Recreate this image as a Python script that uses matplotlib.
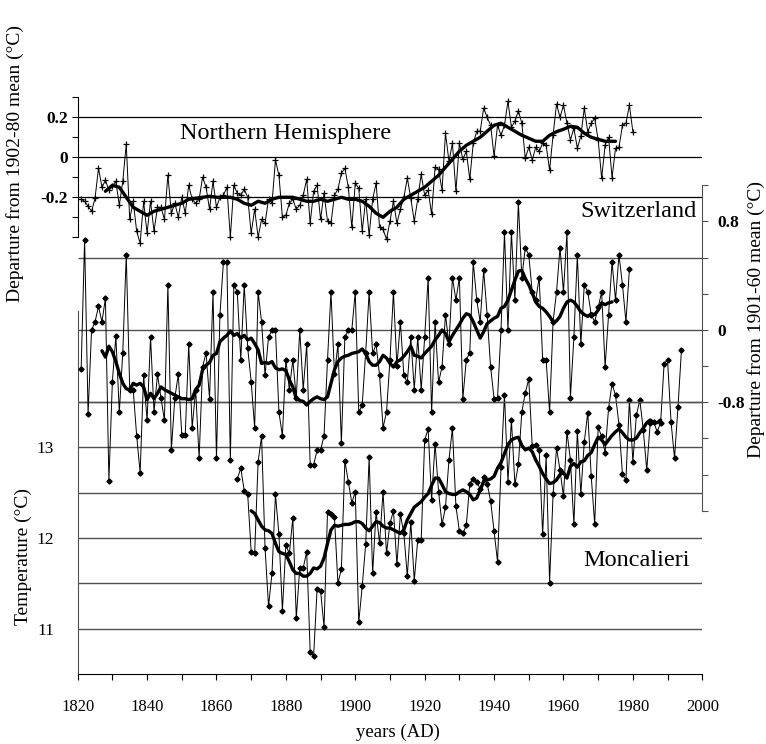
#!/usr/bin/python3
'''
Annual temperature series: Northern Hemisphere, Switzerland and Moncalieri,
stacked in one panel with their own vertical scales, thin lines are the
annual values and thick lines the smoothed curves.
'''
import numpy as np
from matplotlib import pyplot as plt
from matplotlib.ticker import FixedLocator, FixedFormatter

#--------------------------------------------
# Data
# Northern Hemisphere, departure from 1902-80 mean, 1821-1980
nh_start = 1821
nh_vals = [
    -0.21, -0.22, -0.245, -0.27, -0.205, -0.055, -0.15, -0.115, -0.165, -0.145,
    -0.12, -0.24, -0.12, 0.066, -0.31, -0.22, -0.37, -0.43, -0.22, -0.38,
    -0.22, -0.37, -0.25, -0.25, -0.31, -0.09, -0.28, -0.23, -0.30, -0.20,
    -0.28, -0.14, -0.21, -0.23, -0.21, -0.10, -0.15, -0.26, -0.12, -0.25,
    -0.20, -0.19, -0.15, -0.40, -0.14, -0.18, -0.19, -0.16, -0.20, -0.38,
    -0.26, -0.40, -0.31, -0.33, -0.21, -0.23, -0.014, -0.09, -0.30, -0.29,
    -0.23, -0.21, -0.26, -0.24, -0.19, -0.11, -0.33, -0.17, -0.14, -0.31,
    -0.18, -0.32, -0.33, -0.19, -0.16, -0.08, -0.055, -0.15, -0.35, -0.13,
    -0.155, -0.37, -0.21, -0.39, -0.21, -0.13, -0.35, -0.36, -0.41, -0.32,
    -0.22, -0.33, -0.26, -0.20, -0.105, -0.205, -0.32, -0.21, -0.085, -0.19,
    -0.165, -0.285, -0.05, -0.06, -0.165, 0.12, -0.02, 0.07, -0.17, 0.07,
    -0.01, 0.03, -0.11, 0.07, 0.13, 0.13, 0.245, 0.20, 0.16, 0.006,
    0.16, 0.11, 0.16, 0.28, 0.15, 0.18, 0.233, 0.17, -0.005, 0.05,
    -0.014, 0.05, 0.03, 0.07, 0.06, -0.064, 0.11, 0.266, 0.20, 0.26,
    0.17, 0.087, 0.145, 0.045, 0.106, 0.245, 0.128, 0.17, 0.195, 0.087,
    -0.105, 0.06, 0.10, -0.102, 0.045, 0.05, 0.16, 0.17, 0.26, 0.128,
]
nh_smooth_years = [
    1828, 1830, 1832, 1834, 1836, 1838, 1840, 1842, 1844, 1846, 1848, 1850,
    1852, 1854, 1856, 1858, 1860, 1862, 1864, 1866, 1868, 1870, 1872, 1874,
    1876, 1878, 1880, 1882, 1884, 1886, 1888, 1890, 1892, 1894, 1896, 1898,
    1900, 1902, 1904, 1906, 1908, 1910, 1912, 1914, 1916, 1918, 1920, 1922,
    1924, 1926, 1928, 1930, 1932, 1934, 1936, 1938, 1940, 1942, 1944, 1946,
    1948, 1950, 1952, 1954, 1956, 1958, 1960, 1962, 1964, 1966, 1968, 1970,
    1972, 1974, 1975,
]
nh_smooth = [
    -0.17, -0.14, -0.15, -0.20, -0.25, -0.27, -0.29, -0.27, -0.26, -0.25, -0.24, -0.23,
    -0.21, -0.205, -0.20, -0.195, -0.20, -0.20, -0.20, -0.21, -0.23, -0.24, -0.22, -0.23,
    -0.21, -0.20, -0.20, -0.20, -0.21, -0.22, -0.22, -0.21, -0.22, -0.21, -0.20, -0.21,
    -0.21, -0.22, -0.245, -0.28, -0.30, -0.27, -0.25, -0.21, -0.19, -0.17, -0.15, -0.12,
    -0.09, -0.05, -0.01, 0.03, 0.06, 0.08, 0.10, 0.13, 0.16, 0.17, 0.15, 0.13,
    0.11, 0.095, 0.08, 0.08, 0.11, 0.128, 0.14, 0.155, 0.15, 0.12, 0.10, 0.09,
    0.08, 0.08, 0.08,
]

# Switzerland, departure from 1901-60 mean, 1821-1979
sw_start = 1821
sw_vals = [
    -0.43, 1.00, -0.93, 0.00, 0.09, 0.26, 0.09, 0.35, -1.67, -0.57,
    -0.07, -0.91, -0.25, 0.83, -0.66, -0.66, -1.17, -1.58, -0.50, -1.00,
    -0.08, -0.91, -0.49, -0.75, -1.00, 0.50, -1.33, -0.75, -0.49, -1.16,
    -1.16, -0.16, -1.08, -0.66, -1.42, -0.41, -0.25, -0.76, 0.42, -1.42,
    0.17, 0.75, 0.75, -1.44, 0.50, 0.42, -0.33, 0.50, -0.20, -0.57,
    -1.08, 0.42, 0.09, -0.50, -0.08, 0.00, 0.00, -0.91, -1.17, -0.33,
    -0.66, -0.33, -0.75, 0.00, -0.66, -0.16, -1.49, -1.49, -1.33, -1.33,
    -1.17, -0.33, 0.42, -0.49, -0.16, -1.25, -0.08, 0.00, 0.00, 0.42,
    -0.91, -0.83, -0.25, 0.42, -0.26, -0.16, -0.50, -1.08, -0.91, -0.33,
    0.42, -0.40, 0.09, -0.50, -0.58, -0.08, -0.66, -0.08, -0.66, -0.08,
    0.58, -0.91, 0.09, -0.58, -0.41, 0.17, -0.16, 0.58, 0.33, 0.58,
    -0.76, -0.33, -0.25, 0.75, 0.33, 0.09, 0.66, 0.17, -0.41, -0.76,
    -0.75, 0.00, 1.08, 0.00, 1.08, 0.33, 1.41, 0.58, 0.91, 0.83,
    0.42, 0.33, 0.58, -0.33, -0.33, -0.91, 0.09, 0.42, 0.91, 0.42,
    1.08, -0.75, -0.08, 0.83, -0.16, 0.50, 0.42, 0.17, 0.09, 0.25,
    0.42, -0.41, 0.17, 0.75, 0.33, 0.83, 0.50, 0.09, 0.67,
]
sw_smooth_start = 1827
sw_smooth = [
    -0.23, -0.30, -0.18, -0.24, -0.35, -0.48, -0.59, -0.65, -0.66, -0.59,
    -0.61, -0.59, -0.63, -0.77, -0.70, -0.76, -0.70, -0.63, -0.66, -0.68,
    -0.70, -0.72, -0.74, -0.76, -0.76, -0.77, -0.76, -0.66, -0.61, -0.44,
    -0.39, -0.36, -0.28, -0.26, -0.13, -0.09, -0.06, -0.01, -0.06, -0.04,
    -0.09, -0.06, -0.11, -0.09, -0.15, -0.22, -0.37, -0.36, -0.37, -0.35,
    -0.42, -0.44, -0.43, -0.45, -0.55, -0.63, -0.76, -0.78, -0.79, -0.83,
    -0.79, -0.76, -0.74, -0.76, -0.77, -0.74, -0.59, -0.44, -0.35, -0.31,
    -0.29, -0.28, -0.26, -0.25, -0.24, -0.21, -0.26, -0.35, -0.39, -0.39,
    -0.35, -0.28, -0.31, -0.37, -0.41, -0.35, -0.33, -0.29, -0.24, -0.18,
    -0.28, -0.29, -0.31, -0.26, -0.22, -0.18, -0.11, -0.06, 0.00, -0.04,
    -0.13, -0.06, 0.00, 0.06, 0.13, 0.18, 0.165, 0.09, 0.00, -0.09,
    -0.02, 0.07, 0.10, 0.13, 0.15, 0.24, 0.26, 0.33, 0.44, 0.55,
    0.65, 0.66, 0.57, 0.50, 0.41, 0.31, 0.26, 0.24, 0.20, 0.15,
    0.09, 0.10, 0.15, 0.24, 0.31, 0.33, 0.31, 0.26, 0.20, 0.17,
    0.15, 0.18, 0.17, 0.22, 0.30, 0.28, 0.30, 0.31,
]

# Moncalieri, temperature (deg C), 1866-1994
mo_start = 1866
mo_vals = [
    12.65, 12.77, 12.52, 12.48, 11.85, 11.83, 12.84, 13.12, 11.89, 11.25,
    11.61, 12.48, 12.04, 11.20, 11.92, 11.83, 12.22, 11.12, 11.67, 11.67,
    11.85, 10.75, 10.70, 11.44, 11.42, 11.02, 12.29, 12.27, 12.23, 11.50,
    11.66, 12.85, 12.62, 12.39, 12.51, 11.07, 11.47, 11.93, 12.89, 11.61,
    12.29, 11.94, 12.51, 11.83, 12.16, 12.30, 11.71, 12.26, 12.05, 11.58,
    12.18, 11.53, 11.98, 11.98, 13.08, 13.20, 12.42, 13.04, 12.51, 12.15,
    12.34, 12.86, 13.21, 12.35, 12.08, 12.05, 12.14, 12.60, 12.65, 12.62,
    12.54, 12.67, 12.60, 12.41, 12.08, 11.74, 12.78, 13.58, 12.62, 13.30,
    12.59, 12.81, 13.39, 13.60, 13.75, 13.01, 13.02, 12.97, 12.04, 12.91,
    11.51, 12.48, 12.99, 12.75, 12.46, 13.17, 12.86, 12.15, 13.18, 12.48,
    13.06, 13.38, 12.68, 12.15, 13.22, 13.12, 12.94, 13.43, 13.70, 13.57,
    13.25, 12.70, 12.64, 13.52, 12.84, 13.35, 13.52, 13.19, 12.75, 13.27,
    13.28, 13.17, 13.27, 13.92, 13.96, 13.28, 12.88, 13.44, 14.07,
]
mo_smooth_start = 1870
mo_smooth = [
    12.30, 12.27, 12.20, 12.13, 12.09, 12.08, 12.05, 11.94, 11.85, 11.83,
    11.82, 11.74, 11.65, 11.61, 11.61, 11.58, 11.58, 11.61, 11.67, 11.66,
    11.69, 11.78, 11.94, 12.09, 12.14, 12.13, 12.14, 12.15, 12.15, 12.16,
    12.18, 12.18, 12.16, 12.11, 12.08, 12.13, 12.18, 12.17, 12.13, 12.11,
    12.11, 12.09, 12.07, 12.05, 12.09, 12.20, 12.27, 12.34, 12.37, 12.40,
    12.45, 12.49, 12.58, 12.66, 12.66, 12.59, 12.51, 12.49, 12.48, 12.48,
    12.51, 12.53, 12.51, 12.48, 12.42, 12.44, 12.53, 12.62, 12.64, 12.65,
    12.68, 12.77, 12.83, 12.93, 13.03, 13.08, 13.10, 13.11, 13.02, 12.97,
    12.99, 12.95, 12.86, 12.79, 12.71, 12.65, 12.60, 12.61, 12.64, 12.70,
    12.72, 12.66, 12.79, 12.82, 12.78, 12.84, 12.85, 12.91, 12.94, 13.03,
    13.11, 13.08, 13.03, 13.08, 13.13, 13.17, 13.20, 13.16, 13.11, 13.08,
    13.08, 13.10, 13.16, 13.21, 13.27, 13.30, 13.27, 13.27, 13.30,
]

nh_years = np.arange(nh_start, nh_start + len(nh_vals))
sw_years = np.arange(sw_start, sw_start + len(sw_vals))
sw_smooth_years = np.arange(sw_smooth_start, sw_smooth_start + len(sw_smooth))
mo_years = np.arange(mo_start, mo_start + len(mo_vals))
mo_smooth_years = np.arange(mo_smooth_start, mo_smooth_start + len(mo_smooth))

#--------------------------------------------
# Main code
if __name__ == "__main__":
    plt.rcParams['font.family'] = ['Liberation Serif', 'DejaVu Serif']
    fig = plt.figure(figsize=(7.66, 7.44), dpi=100)
    rect = [0.1014, 0.0938, 0.8154, 0.792]
    ax_m = fig.add_axes(rect)
    ax_n = fig.add_axes(rect, sharex=ax_m, facecolor='none')
    ax_s = fig.add_axes(rect, sharex=ax_m, facecolor='none')

    grid_kw = dict(color='#505050', lw=1.0, zorder=1)
    thin_kw = dict(color='k', lw=0.7, zorder=3)
    thick_kw = dict(color='k', lw=2.4, zorder=4, solid_capstyle='round')

    #-----------------------------------
    # Moncalieri (bottom, left scale)
    ax_m.hlines([11, 11.5, 12, 12.5, 13, 13.5], 1820, 2000, **grid_kw)
    ax_m.plot(mo_years, mo_vals, marker='D', ms=2.6, **thin_kw)
    ax_m.plot(mo_smooth_years, mo_smooth, **thick_kw)
    ax_m.set_xlim(1820, 2000)
    ax_m.set_ylim(10.5, 16.99)
    for side in ['top', 'right']:
        ax_m.spines[side].set_visible(False)
    ax_m.spines['left'].set_bounds(10.5, 14.5)
    ax_m.spines['left'].set_color('#505050')
    ax_m.set_xticks(np.arange(1820, 2001, 20))
    ax_m.set_xticks(np.arange(1830, 2000, 20), minor=True)
    ax_m.tick_params(axis='x', which='both', length=4, width=0.8,
                     labelsize=12, pad=14)
    ax_m.set_yticks([11, 12, 13])
    ax_m.tick_params(axis='y', length=0, labelsize=12.5, pad=17)

    #-----------------------------------
    # Northern Hemisphere (top, left scale)
    ax_n.hlines([0.2, 0.0, -0.2], 1820, 2000, color='k', lw=0.9, zorder=1)
    ax_n.plot(nh_years, nh_vals, marker='+', ms=4, mew=0.9, **thin_kw)
    ax_n.plot(nh_smooth_years, nh_smooth, **thick_kw)
    ax_n.set_ylim(-2.5845, 0.3615)
    for side in ['top', 'right', 'bottom']:
        ax_n.spines[side].set_visible(False)
    ax_n.spines['left'].set_bounds(-0.4, 0.3)
    ax_n.xaxis.set_visible(False)
    ax_n.yaxis.set_major_locator(FixedLocator([-0.2, 0.0, 0.2]))
    ax_n.yaxis.set_major_formatter(FixedFormatter(['-0.2', '0', '0.2']))
    ax_n.yaxis.set_minor_locator(FixedLocator([-0.4, -0.3, -0.1, 0.1, 0.3]))
    ax_n.tick_params(axis='y', which='both', length=4, width=0.8, pad=3)
    ax_n.tick_params(axis='y', which='major', labelsize=12.5)
    for lab in ax_n.get_yticklabels():
        lab.set_fontweight('bold')

    #-----------------------------------
    # Switzerland (middle, right scale)
    ax_s.hlines([0.8, 0.0, -0.8], 1820, 2000, **grid_kw)
    ax_s.plot(sw_years, sw_vals, marker='D', ms=2.6, **thin_kw)
    ax_s.plot(sw_smooth_years, sw_smooth, **thick_kw)
    ax_s.set_ylim(-3.8075, 2.710)
    for side in ['top', 'left', 'bottom']:
        ax_s.spines[side].set_visible(False)
    ax_s.spines['right'].set_bounds(-2.0, 1.6)
    ax_s.spines['right'].set_color('#505050')
    ax_s.xaxis.set_visible(False)
    ax_s.yaxis.tick_right()
    ax_s.yaxis.set_major_locator(FixedLocator([-0.8, 0.0, 1.2]))
    ax_s.yaxis.set_major_formatter(FixedFormatter(['-0.8', '0', '0.8']))
    ax_s.yaxis.set_minor_locator(FixedLocator(
        [-2.0, -1.6, -1.2, -0.4, 0.4, 0.8, 1.6]))
    ax_s.tick_params(axis='y', which='both', length=4, width=0.8,
                     color='#505050', pad=7)
    ax_s.tick_params(axis='y', which='major', labelsize=12.5)
    for lab in ax_s.get_yticklabels():
        lab.set_fontweight('bold')

    #-----------------------------------
    # Labels
    ax_n.text(1880, 0.12, 'Northern Hemisphere', fontsize=17.5,
              ha='center', va='center')
    ax_s.text(1998.5, 1.31, 'Switzerland', fontsize=17.5,
              ha='right', va='center')
    ax_m.text(1996.5, 11.75, 'Moncalieri', fontsize=17.5,
              ha='right', va='center')
    fig.text(0.020, 0.78, 'Departure from 1902-80 mean (°C)', fontsize=14,
             rotation=90, ha='center', va='center')
    fig.text(0.030, 0.252, 'Temperature (°C)', fontsize=14,
             rotation=90, ha='center', va='center')
    fig.text(0.987, 0.57, 'Departure from 1901-60 mean (°C)', fontsize=14,
             rotation=90, ha='center', va='center')
    fig.text(0.52, 0.015, 'years (AD)', fontsize=13.5,
             ha='center', va='center')

    plt.savefig("out.png", dpi=100)
